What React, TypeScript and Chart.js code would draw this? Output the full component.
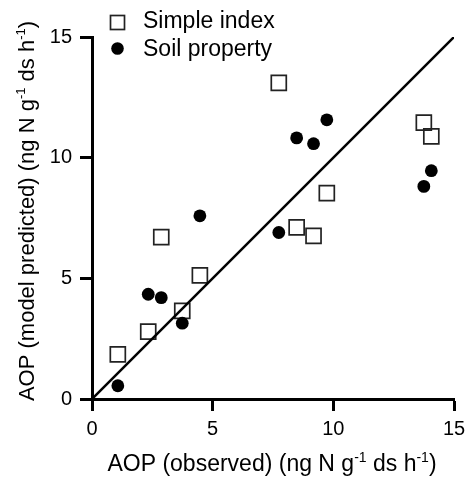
import React, { useEffect, useRef } from "react";
import { Chart, registerables } from "chart.js";

Chart.register(...registerables);

const observed = [1.07, 2.33, 2.87, 3.74, 4.47, 7.74, 8.48, 9.18, 9.73, 13.75, 14.06];
const simpleIndex = [1.85, 2.79, 6.71, 3.65, 5.12, 13.1, 7.11, 6.76, 8.53, 11.45, 10.88];
const soilProperty = [0.55, 4.34, 4.2, 3.14, 7.59, 6.9, 10.82, 10.58, 11.57, 8.81, 9.46];
const oneToOne = [0, 15];
const tickValues = [0, 5, 10, 15];
const seriesLabels = ["Simple index", "Soil property"];

const FONT = "'Liberation Sans', Arial, Helvetica, sans-serif";

type Seg = { t: string; sup?: boolean };
const xTitle: Seg[] = [
  { t: "AOP (observed) (ng N g" },
  { t: "-1", sup: true },
  { t: " ds h" },
  { t: "-1", sup: true },
  { t: ")" },
];
const yTitle: Seg[] = [
  { t: "AOP (model predicted) (ng N g" },
  { t: "-1", sup: true },
  { t: " ds h" },
  { t: "-1", sup: true },
  { t: ")" },
];

function drawSegs(ctx: CanvasRenderingContext2D, segs: Seg[], size: number, cx: number, cy: number) {
  const supSize = Math.round(size * 0.6);
  let total = 0;
  const widths = segs.map((s) => {
    ctx.font = `${s.sup ? supSize : size}px ${FONT}`;
    const w = ctx.measureText(s.t).width;
    total += w;
    return w;
  });
  let x = cx - total / 2;
  ctx.textBaseline = "alphabetic";
  ctx.textAlign = "left";
  const base = cy + size * 0.36;
  segs.forEach((s, i) => {
    ctx.font = `${s.sup ? supSize : size}px ${FONT}`;
    ctx.fillText(s.t, x, s.sup ? base - size * 0.42 : base);
    x += widths[i];
  });
}

const customPlugin = {
  id: "custom",
  afterDraw(chart: any) {
    const ctx = chart.ctx as CanvasRenderingContext2D;
    const area = chart.chartArea;
    ctx.save();
    ctx.fillStyle = "#000";
    drawSegs(ctx, xTitle, 23, (area.left + area.right) / 2 - 1, 463);
    ctx.save();
    ctx.translate(26, 211);
    ctx.rotate(-Math.PI / 2);
    drawSegs(ctx, yTitle, 22, 0, 0);
    ctx.restore();
    // legend
    ctx.lineWidth = 1.7;
    ctx.strokeStyle = "#222";
    ctx.strokeRect(110.5, 15.5, 14, 14);
    ctx.beginPath();
    ctx.arc(117.5, 48.5, 6.3, 0, Math.PI * 2);
    ctx.fillStyle = "#000";
    ctx.fill();
    ctx.font = `23px ${FONT}`;
    ctx.textBaseline = "middle";
    ctx.textAlign = "left";
    ctx.fillText(seriesLabels[0], 143, 22);
    ctx.fillText(seriesLabels[1], 143, 50);
    ctx.restore();
  },
};

export default function App() {
  const ref = useRef<HTMLCanvasElement>(null);
  useEffect(() => {
    document.body.style.margin = "0";
    const chart = new Chart(ref.current!, {
      type: "scatter",
      data: {
        datasets: [
          {
            label: "1:1",
            data: oneToOne.map((v) => ({ x: v, y: v })),
            showLine: true,
            borderColor: "#000",
            borderWidth: 2.5,
            pointRadius: 0,
            order: 0,
          },
          {
            label: seriesLabels[0],
            data: observed.map((x, i) => ({ x, y: simpleIndex[i] })),
            pointStyle: "rect",
            pointRadius: 10.6,
            borderColor: "#222",
            borderWidth: 1.7,
            backgroundColor: "rgba(255,255,255,0)",
            order: 2,
          },
          {
            label: seriesLabels[1],
            data: observed.map((x, i) => ({ x, y: soilProperty[i] })),
            pointStyle: "circle",
            pointRadius: 6.4,
            borderWidth: 0,
            backgroundColor: "#000",
            order: 1,
          },
        ],
      },
      options: {
        animation: false,
        responsive: false,
        devicePixelRatio: 1,
        layout: { padding: { left: 0, top: 37, right: 13, bottom: 0 } },
        plugins: { legend: { display: false }, tooltip: { enabled: false } },
        scales: {
          x: {
            type: "linear",
            min: 0,
            max: 15,
            afterBuildTicks: (s: any) => {
              s.ticks = tickValues.map((v) => ({ value: v }));
            },
            afterFit: (s: any) => {
              s.height = 78;
              s.paddingLeft = 0;
              s.paddingRight = 0;
            },
            ticks: { color: "#000", font: { size: 20, family: FONT }, padding: 6 },
            grid: { drawOnChartArea: false, tickLength: 12, tickWidth: 3, tickColor: "#000" },
            border: { color: "#000", width: 3 },
          },
          y: {
            type: "linear",
            min: 0,
            max: 15,
            afterBuildTicks: (s: any) => {
              s.ticks = tickValues.map((v) => ({ value: v }));
            },
            afterFit: (s: any) => {
              s.width = 92;
              s.paddingTop = 0;
              s.paddingBottom = 0;
            },
            ticks: { color: "#000", font: { size: 20, family: FONT }, padding: 8 },
            grid: { drawOnChartArea: false, tickLength: 12, tickWidth: 3, tickColor: "#000" },
            border: { color: "#000", width: 3 },
          },
        },
      },
      plugins: [customPlugin],
    });
    return () => chart.destroy();
  }, []);
  return <canvas ref={ref} width={467} height={477} style={{ display: "block" }} />;
}
